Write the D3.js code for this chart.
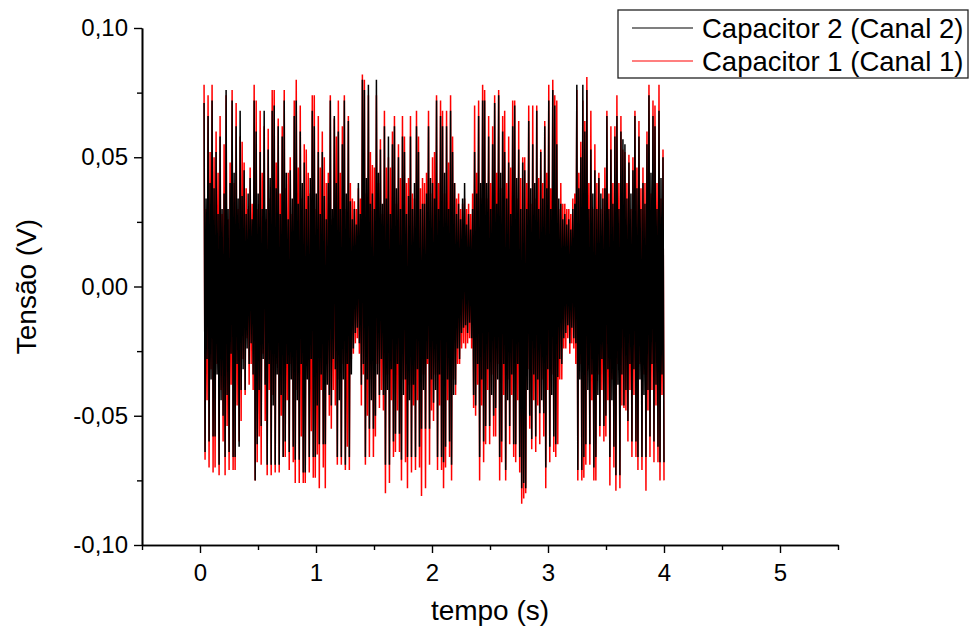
<!DOCTYPE html>
<html>
<head>
<meta charset="utf-8">
<script src="https://cdn.jsdelivr.net/npm/d3@7"></script>
<style>
  body { margin: 0; background: #fff; }
  svg { display: block; }
  text { font-family: "Liberation Sans", Arial, Helvetica, sans-serif; fill: #000; }
</style>
</head>
<body>
<svg id="chart" width="971" height="630"></svg>
<script>
// Axis ticks
const xTicks = [0, 1, 2, 3, 4, 5];
const xMinorTicks = [-0.5, 0.5, 1.5, 2.5, 3.5, 4.5, 5.5];
const yTicks = [-0.10, -0.05, 0.00, 0.05, 0.10];
const yMinorTicks = [-0.075, -0.025, 0.025, 0.075];

// Series names (legend order)
const seriesNames = ["Capacitor 2 (Canal 2)", "Capacitor 1 (Canal 1)"];

// Acquisition window (s), samples equally spaced over it
const tStart = 0.035, tEnd = 4.0;

// Capacitor 2 (Canal 2) voltage samples, mV
const canal2mV = [
  71,-64,34,-28,66,-60,40,-36,72,-58, 38,-58,52,-34,28,-69,58,-44,30,-50,
  36,-66,76,-42,30,-64,40,-26,72,-66, 44,-66,62,-30,34,-62,68,-40,35,-32,
  45,-40,28,-24,36,-30,42,-22,26,-34, 72,-75,60,-61,36,-40,52,-54,30,-28,
  68,-38,30,-69,53,-30,42,-69,68,-46, 70,-69,38,-34,62,-69,28,-42,58,-66,
  72,-60,44,-30,26,-64,45,-36,34,-62, 66,-67,72,-44,32,-67,60,-30,40,-72,
  48,-72,30,-36,35,-66,42,-28,68,-66, 62,-66,36,-46,52,-61,28,-34,52,-61,
  35,-61,26,-38,40,-42,72,-46,30,-28, 66,-32,40,-66,60,-44,30,-66,55,-36,
  72,-69,36,-30,64,-66,33,-34,26,-24, 30,-18,24,-16,40,-22,28,-38,80,-30,
  76,-66,42,-36,78,-55,32,-44,36,-55, 30,-50,80,-34,44,-42,53,-28,32,-42,
  62,-69,34,-40,58,-69,28,-32,55,-60, 62,-57,38,-30,50,-57,30,-67,58,-42,
  52,-36,28,-66,35,-44,58,-66,30,-38, 40,-66,62,-32,52,-62,30,-55,32,-40,
  32,-55,36,-28,62,-55,42,-36,40,-45, 34,-40,72,-66,30,-34,66,-66,62,-68,
  44,-62,62,-36,30,-60,68,-69,52,-42, 40,-38,28,-24,32,-28,26,-18,34,-16,
  40,-15,24,-18,28,-14,22,-20,30,-42, 52,-46,36,-30,66,-66,40,-36,72,-60,
  72,-54,40,-32,58,-54,30,-42,55,-50, 71,-47,32,-36,74,-66,44,-60,60,-30,
  52,-71,34,-44,48,-54,28,-34,62,-61, 70,-61,42,-30,53,-66,30,-78,48,-76,
  45,-78,30,-40,64,-50,38,-59,55,-34, 40,-58,68,-36,30,-49,52,-44,34,-49,
  62,-70,38,-32,72,-62,30,-42,76,-58, 70,-61,55,-35,34,-28,32,-30,26,-20,
  28,-18,24,-15,26,-22,22,-16,30,-20, 32,-22,78,-71,38,-36,50,-71,78,-66,
  60,-61,76,-40,30,-61,53,-34,36,-70, 45,-66,30,-42,42,-54,36,-28,34,-54,
  38,-50,66,-32,30,-66,53,-44,32,-62, 58,-73,66,-38,30,-73,60,-34,57,-46,
  55,-40,34,-52,48,-30,36,-60,45,-32, 66,-60,38,-66,58,-36,30,-66,40,-42,
  32,-66,55,-40,74,-58,44,-30,66,-60, 62,-38,30,-62,68,-68,42,-34,50,-68
];

// Capacitor 1 (Canal 1) voltage samples, mV
const canal1mV = [
  78,-67,30,-44,74,-70,52,-32,78,-72, 50,-70,60,-30,44,-73,66,-40,28,-60,
  55,-73,74,-54,26,-71,48,-38,76,-71, 40,-71,71,-46,30,-60,58,-52,56,-28,
  48,-42,38,-20,30,-38,46,-30,32,-40, 78,-75,72,-68,30,-58,68,-69,44,-26,
  62,-52,26,-73,61,-40,34,-73,76,-42, 76,-72,48,-30,65,-72,36,-50,62,-66,
  76,-66,38,-44,44,-71,50,-30,28,-68, 72,-76,80,-40,46,-76,70,-58,34,-76,
  55,-76,53,-30,44,-72,36,-56,74,-74, 74,-74,30,-65,66,-78,46,-40,60,-70,
  50,-78,40,-30,44,-50,74,-55,26,-40, 65,-46,58,-69,72,-36,44,-69,62,-30,
  74,-71,30,-62,66,-71,40,-28,34,-26, 33,-22,30,-20,38,-26,34,-46,82,-34,
  80,-69,36,-50,74,-66,52,-36,47,-66, 46,-58,74,-30,40,-47,57,-40,28,-48,
  68,-80,46,-34,50,-76,46,-44,60,-66, 66,-64,32,-48,55,-64,42,-75,66,-36,
  58,-68,40,-78,42,-38,66,-72,36,-46, 34,-71,68,-44,58,-70,38,-81,42,-34,
  40,-78,44,-30,68,-69,36,-48,50,-52, 52,-34,74,-71,40,-46,72,-71,68,-78,
  36,-70,68,-44,48,-66,74,-75,58,-36, 40,-42,34,-30,36,-30,30,-24,32,-22,
  34,-24,30,-22,32,-20,28,-24,36,-47, 70,-50,44,-38,72,-75,34,-46,78,-68,
  76,-61,34,-40,66,-61,40,-34,62,-58, 74,-58,44,-30,76,-75,38,-68,66,-42,
  68,-75,40,-36,58,-61,46,-42,72,-66, 72,-68,34,-44,64,-72,42,-84,50,-82,
  50,-80,40,-32,70,-55,32,-63,70,-44, 34,-64,70,-46,42,-61,53,-36,40,-58,
  64,-78,44,-40,78,-68,38,-34,80,-64, 74,-66,72,-61,30,-36,40,-36,32,-24,
  32,-24,30,-20,30,-26,28,-22,34,-24, 36,-30,76,-75,44,-30,56,-75,72,-74,
  64,-69,81,-32,40,-69,68,-44,30,-75, 55,-75,40,-34,44,-58,30,-40,38,-60,
  46,-58,68,-44,36,-77,62,-36,40,-70, 62,-79,74,-30,40,-78,66,-46,53,-47,
  52,-48,40,-60,51,-40,30,-66,50,-42, 68,-66,46,-71,64,-30,38,-71,46,-34,
  40,-79,60,-48,78,-66,36,-40,72,-68, 70,-46,40,-68,78,-75,34,-42,53,-75
];

const svg = d3.select("#chart");
const margin = { left: 142, right: 133, top: 28, bottom: 85 };
const W = 971, H = 630;

const x = d3.scaleLinear().domain([-0.5, 5.5]).range([margin.left, W - margin.right]);
const y = d3.scaleLinear().domain([-0.10, 0.10]).range([H - margin.bottom, margin.top]);

// Decimal comma, plain hyphen for negatives
const comma = v => d3.format(".2f")(v).replace("\u2212", "-").replace(".", ",");

function toPoints(mv) {
  const n = mv.length;
  const dt = (tEnd - tStart) / (n - 1);
  return mv.map((v, i) => ({ t: tStart + i * dt, v: v / 1000 }));
}

const line = d3.line().x(d => x(d.t)).y(d => y(d.v));

// Channel 1 underneath, channel 2 drawn over it
svg.append("path")
  .datum(toPoints(canal1mV))
  .attr("d", line)
  .attr("fill", "none")
  .attr("stroke", "#ff0000")
  .attr("stroke-width", 1.5);

svg.append("path")
  .datum(toPoints(canal2mV))
  .attr("d", line)
  .attr("fill", "none")
  .attr("stroke", "#000000")
  .attr("stroke-width", 1.5);

// Axes
const yAxisG = svg.append("g").attr("transform", `translate(${margin.left},0)`);
yAxisG.call(d3.axisLeft(y).tickValues(yTicks).tickFormat(comma).tickSize(8).tickSizeOuter(0).tickPadding(6));
const yMinorG = svg.append("g").attr("transform", `translate(${margin.left},0)`);
yMinorG.call(d3.axisLeft(y).tickValues(yMinorTicks).tickFormat("").tickSize(5).tickSizeOuter(0));

const xAxisG = svg.append("g").attr("transform", `translate(0,${H - margin.bottom})`);
xAxisG.call(d3.axisBottom(x).tickValues(xTicks).tickFormat(d3.format("d")).tickSize(8).tickSizeOuter(0).tickPadding(11));
const xMinorG = svg.append("g").attr("transform", `translate(0,${H - margin.bottom})`);
xMinorG.call(d3.axisBottom(x).tickValues(xMinorTicks).tickFormat("").tickSize(5).tickSizeOuter(0));

svg.selectAll(".domain").attr("stroke", "#000").attr("stroke-width", 1.6);
svg.selectAll(".tick line").attr("stroke", "#000").attr("stroke-width", 1.4);
svg.selectAll(".tick text")
  .style("font-family", '"Liberation Sans", Arial, sans-serif')
  .style("font-size", "24px")
  .attr("fill", "#000");

// Axis titles
svg.append("text")
  .attr("x", (x(-0.5) + x(5.5)) / 2)
  .attr("y", 620)
  .attr("text-anchor", "middle")
  .style("font-size", "28px")
  .text("tempo (s)");

svg.append("text")
  .attr("transform", `translate(36,${(y(0.1) + y(-0.1)) / 2}) rotate(-90)`)
  .attr("text-anchor", "middle")
  .style("font-size", "28px")
  .text("Tensão (V)");

// Legend
const legend = svg.append("g").attr("transform", "translate(618,10)");
legend.append("rect")
  .attr("x", 0).attr("y", 0).attr("width", 350).attr("height", 68)
  .attr("fill", "#fff").attr("stroke", "#222").attr("stroke-width", 1.3);
const legendColors = ["#000000", "#ff0000"];
seriesNames.forEach((name, i) => {
  const cy = 18 + i * 33;
  legend.append("line")
    .attr("x1", 14).attr("x2", 75).attr("y1", cy).attr("y2", cy)
    .attr("stroke", legendColors[i]).attr("stroke-width", 1.2);
  legend.append("text")
    .attr("x", 84).attr("y", cy + 10)
    .style("font-size", "27.5px")
    .text(name);
});
</script>
</body>
</html>
